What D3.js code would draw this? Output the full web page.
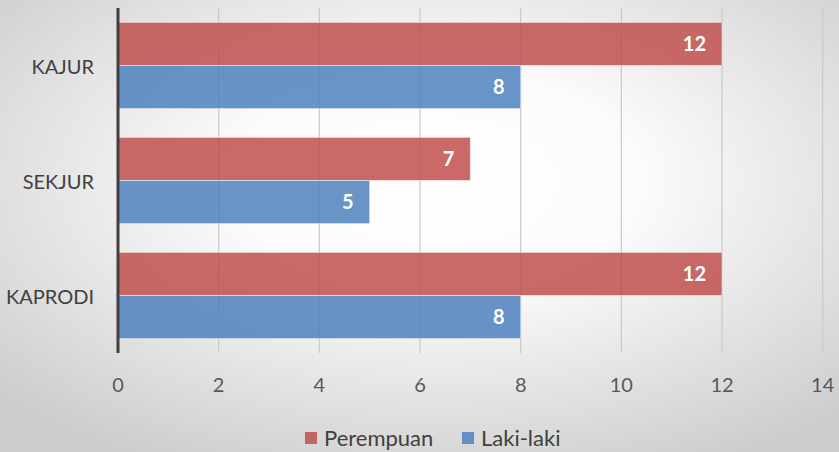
<!DOCTYPE html>
<html><head><meta charset="utf-8">
<script src="https://cdn.jsdelivr.net/npm/d3@7"></script>
<style>body{margin:0;padding:0;overflow:hidden}svg{display:block}</style>
</head><body>
<script>
const categories = ["KAJUR", "SEKJUR", "KAPRODI"];
const seriesNames = ["Perempuan", "Laki-laki"];
const perempuan = [12, 7, 12];
const lakiLaki = [8, 5, 8];
const xTicks = [0, 2, 4, 6, 8, 10, 12, 14];
const colors = ["#c0504d", "#4f81bd"];

const W = 839, H = 452;
const font = "Lato, 'Open Sans', sans-serif";
const svg = d3.select("body").append("svg").attr("width", W).attr("height", H);

const defs = svg.append("defs");
const rg = defs.append("radialGradient").attr("id", "bg")
  .attr("cx", "52%").attr("cy", "40%").attr("r", "70%");
rg.append("stop").attr("offset", "0%").attr("stop-color", "#ffffff");
rg.append("stop").attr("offset", "35%").attr("stop-color", "#fbfbfb");
rg.append("stop").attr("offset", "100%").attr("stop-color", "#cdcdcd");
svg.append("rect").attr("width", W).attr("height", H).attr("fill", "url(#bg)");

const pLeft = 118, pRight = 822.7, pTop = 8, pBottom = 353;
const x = d3.scaleLinear().domain([0, 14]).range([pLeft, pRight]);
const y = d3.scaleBand().domain(categories).range([pTop, pBottom]).paddingInner(0.25).paddingOuter(0.125);
const ys = d3.scaleBand().domain(seriesNames).range([0, y.bandwidth()]);

// gridlines
svg.append("g").selectAll("line").data(xTicks.slice(1)).join("line")
  .attr("x1", d => x(d)).attr("x2", d => x(d))
  .attr("y1", pTop).attr("y2", pBottom)
  .attr("stroke", "#c9c9c9").attr("stroke-width", 1.2);

const data = [perempuan, lakiLaki];
const g = svg.append("g");
seriesNames.forEach((s, si) => {
  const vals = data[si];
  g.selectAll(null).data(categories).join("rect")
    .attr("x", x(0)).attr("y", c => y(c) + ys(s))
    .attr("width", (c, i) => x(vals[i]) - x(0))
    .attr("height", ys.bandwidth())
    .attr("fill", colors[si]).attr("fill-opacity", 0.85)
    .attr("stroke", "#ffffff").attr("stroke-opacity", 0.5).attr("stroke-width", 1);
  g.selectAll(null).data(categories).join("text")
    .attr("x", (c, i) => x(vals[i]) - 16)
    .attr("y", c => y(c) + ys(s) + ys.bandwidth() / 2)
    .attr("dy", "0.36em").attr("text-anchor", "end")
    .attr("fill", "#ffffff").attr("font-family", font).attr("font-weight", "bold")
    .attr("font-size", 20)
    .text((c, i) => vals[i]);
});

// axis line
svg.append("line").attr("x1", x(0)).attr("x2", x(0)).attr("y1", pTop).attr("y2", pBottom)
  .attr("stroke", "#404040").attr("stroke-width", 3);

// x tick labels
svg.append("g").selectAll("text").data(xTicks).join("text")
  .attr("x", d => x(d)).attr("y", 385).attr("dy", "0.36em")
  .attr("text-anchor", "middle").attr("fill", "#595959")
  .attr("font-family", font).attr("font-size", 20).text(d => d);

// category labels
svg.append("g").selectAll("text").data(categories).join("text")
  .attr("x", 94).attr("y", c => y(c) + y.bandwidth() / 2 + 1).attr("dy", "0.36em")
  .attr("text-anchor", "end").attr("fill", "#404040")
  .attr("font-family", font).attr("font-size", 20).text(c => c);

// legend
const legX = [305, 462];
const leg = svg.append("g");
seriesNames.forEach((s, i) => {
  leg.append("rect").attr("x", legX[i]).attr("y", 432).attr("width", 12).attr("height", 12)
    .attr("fill", colors[i]).attr("fill-opacity", 0.85);
  leg.append("text").attr("x", legX[i] + 19).attr("y", 438).attr("dy", "0.36em")
    .attr("fill", "#404040").attr("font-family", font).attr("font-size", 22).text(s);
});
</script>
</body></html>
